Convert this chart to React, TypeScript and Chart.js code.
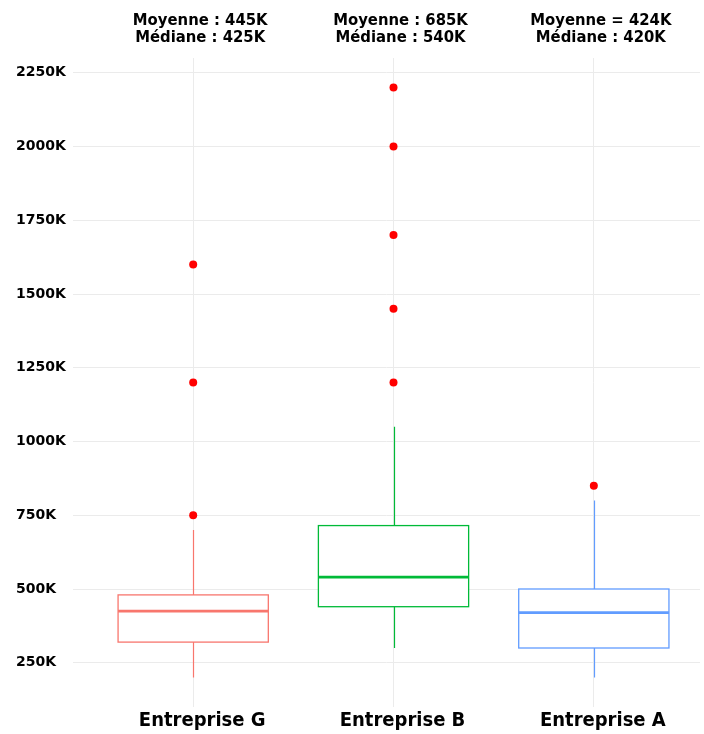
import React, { useEffect, useRef } from "react";
import { Chart, registerables } from "chart.js";

Chart.register(...registerables);

const categories = ["Entreprise G", "Entreprise B", "Entreprise A"];
const whiskerLow = [200, 300, 200];
const q1 = [320, 440, 300];
const median = [425, 540, 420];
const q3 = [480, 715, 500];
const whiskerHigh = [700, 1050, 800];
const outliersG = [750, 1200, 1600];
const outliersB = [1200, 1450, 1700, 2000, 2200];
const outliersA = [850];
const meanLabels = ["Moyenne : 445K", "Moyenne : 685K", "Moyenne = 424K"];
const medianLabels = ["Médiane : 425K", "Médiane : 540K", "Médiane : 420K"];
const yTicks = [250, 500, 750, 1000, 1250, 1500, 1750, 2000, 2250];
const boxColors = ["#F8766D", "#00BA38", "#619CFF"];

const FONT = "'DejaVu Sans Condensed', 'DejaVu Sans', sans-serif";

export default function App() {
  const ref = useRef<HTMLCanvasElement>(null);

  useEffect(() => {
    document.body.style.margin = "0";
    const canvas = ref.current;
    if (!canvas) return;

    const outlierSets = [outliersG, outliersB, outliersA];
    const outlierPoints: { x: number; y: number }[] = [];
    outlierSets.forEach((arr, i) => arr.forEach((v) => outlierPoints.push({ x: i, y: v })));

    const boxPlugin = {
      id: "boxes",
      beforeDatasetsDraw(chart: any) {
        const { ctx, scales } = chart;
        const x = scales.x;
        const y = scales.y;
        ctx.save();
        categories.forEach((_, i) => {
          const xc = Math.round(x.getPixelForValue(i)) + 0.5;
          const xl = x.getPixelForValue(i - 0.375);
          const xr = x.getPixelForValue(i + 0.375);
          const yQ1 = y.getPixelForValue(q1[i]);
          const yQ3 = y.getPixelForValue(q3[i]);
          const yMed = y.getPixelForValue(median[i]);
          const yLo = y.getPixelForValue(whiskerLow[i]);
          const yHi = y.getPixelForValue(whiskerHigh[i]);
          ctx.strokeStyle = boxColors[i];
          ctx.lineWidth = 1.2;
          ctx.beginPath();
          ctx.moveTo(xc, yHi);
          ctx.lineTo(xc, yQ3);
          ctx.moveTo(xc, yQ1);
          ctx.lineTo(xc, yLo);
          ctx.stroke();
          ctx.fillStyle = "#FFFFFF";
          ctx.fillRect(xl, yQ3, xr - xl, yQ1 - yQ3);
          ctx.lineWidth = 1.3;
          ctx.strokeRect(xl, yQ3, xr - xl, yQ1 - yQ3);
          ctx.lineWidth = 2.7;
          ctx.beginPath();
          ctx.moveTo(xl, yMed);
          ctx.lineTo(xr, yMed);
          ctx.stroke();
        });
        ctx.restore();
      },
      afterDraw(chart: any) {
        const { ctx, scales } = chart;
        const x = scales.x;
        ctx.save();
        ctx.fillStyle = "#000000";
        ctx.textAlign = "center";
        ctx.textBaseline = "alphabetic";
        ctx.font = `bold 16.5px ${FONT}`;
        categories.forEach((_, i) => {
          const xc = x.getPixelForValue(i) + 7;
          ctx.fillText(meanLabels[i], xc, 25);
          ctx.fillText(medianLabels[i], xc, 42);
        });
        ctx.restore();
      },
    };

    const chart = new Chart(canvas, {
      type: "scatter",
      data: {
        datasets: [
          {
            data: outlierPoints,
            pointRadius: 4,
            pointHoverRadius: 4,
            pointBackgroundColor: "#FF0000",
            pointBorderColor: "#FF0000",
            pointBorderWidth: 0,
          },
        ],
      },
      options: {
        animation: false,
        responsive: false,
        events: [],
        layout: { padding: { top: 58, left: 16, right: 0, bottom: 0 } },
        plugins: { legend: { display: false }, tooltip: { enabled: false } },
        scales: {
          x: {
            type: "linear",
            min: -0.6,
            max: 2.53,
            afterBuildTicks(scale: any) {
              scale.ticks = categories.map((_, i) => ({ value: i }));
            },
            afterFit(scale: any) {
              scale.height = 27;
            },
            grid: { color: "#EBEBEB", lineWidth: 1, drawTicks: false },
            border: { display: false },
            ticks: {
              padding: 2,
              labelOffset: 9,
              color: "#000000",
              font: { family: FONT, size: 20, weight: "bold" },
              callback: (v: any) => categories[v as number] ?? "",
            },
          },
          y: {
            type: "linear",
            min: 100,
            max: 2300,
            afterBuildTicks(scale: any) {
              scale.ticks = yTicks.map((v) => ({ value: v }));
            },
            afterFit(scale: any) {
              scale.width = 57;
            },
            grid: { color: "#EBEBEB", lineWidth: 1, drawTicks: false },
            border: { display: false },
            ticks: {
              crossAlign: "far",
              padding: 4,
              color: "#000000",
              font: { family: "'DejaVu Sans', sans-serif", size: 14, weight: "bold" },
              callback: (v: any) => `${v}K`,
            },
          },
        },
      },
      plugins: [boxPlugin],
    } as any);

    return () => chart.destroy();
  }, []);

  return (
    <div style={{ width: 704, height: 734 }}>
      <canvas ref={ref} width={704} height={734} style={{ display: "block" }} />
    </div>
  );
}
